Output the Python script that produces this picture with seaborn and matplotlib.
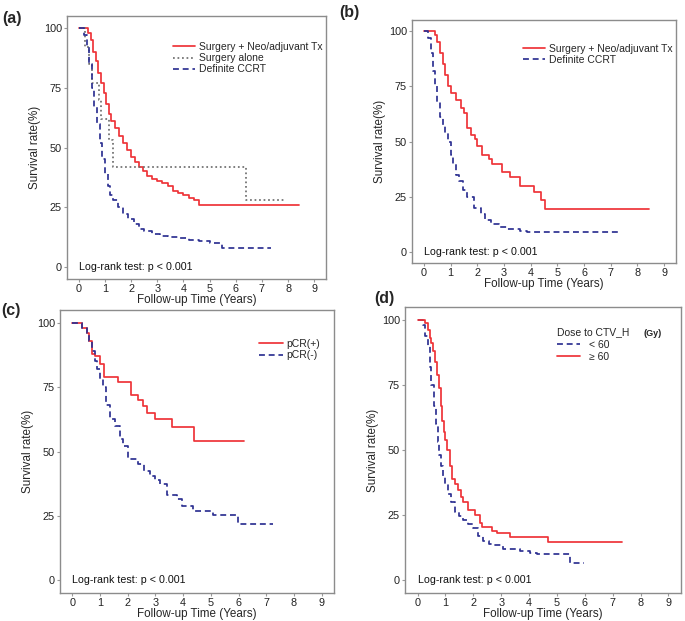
import numpy as np
import pandas as pd
import seaborn as sns
import matplotlib.pyplot as plt

#-----------------------------------
# data (time in years, survival in %)
#-----------------------------------
# (a) treatment groups
a_surg_neo_t = [0, 0.35, 0.45, 0.55, 0.65, 0.75, 0.85, 0.95, 1.05, 1.15, 1.25, 1.4, 1.55, 1.7, 1.85,
                2.0, 2.15, 2.3, 2.45, 2.6, 2.8, 3.0, 3.2, 3.4, 3.6, 3.8, 4.0, 4.2, 4.4, 4.58, 8.43]
a_surg_neo_s = [100, 98, 95, 90, 86, 81, 77, 73, 68, 64, 61, 58, 55, 52, 49,
                46, 44, 42, 40, 38, 37, 36, 35, 34, 32, 31, 30, 29, 28, 26, 26]
a_surg_alone_t = [0, 0.25, 0.4, 0.5, 0.77, 0.86, 1.17, 1.3, 6.39, 7.87]
a_surg_alone_s = [100, 92, 85, 77, 70, 62, 53, 42, 28, 28]
a_ccrt_t = [0, 0.2, 0.3, 0.4, 0.5, 0.6, 0.7, 0.8, 0.9, 1.0, 1.1, 1.2, 1.3, 1.5, 1.7, 1.9,
            2.1, 2.3, 2.5, 2.8, 3.1, 3.4, 3.8, 4.2, 4.6, 5.0, 5.47, 7.36]
a_ccrt_s = [100, 97, 92, 85, 75, 67, 60, 52, 45, 39, 34, 30, 28, 25, 22, 20,
            18, 16, 15, 14, 13, 12.5, 12, 11.5, 11, 10, 8, 8]

# (b) surgery + neo/adjuvant vs definite CCRT
b_surg_neo_t = [0, 0.4, 0.5, 0.6, 0.7, 0.8, 0.89, 1.0, 1.2, 1.39, 1.5, 1.6, 1.76, 1.9, 2.0,
                2.19, 2.44, 2.56, 2.93, 3.24, 3.59, 4.13, 4.38, 4.54, 8.44]
b_surg_neo_s = [100, 98, 95, 90, 85, 80, 75, 72, 69, 65, 63, 56, 53, 51, 48,
                44, 42, 40, 36, 34, 30, 27, 23.5, 19.5, 19.5]
b_ccrt_t = [0, 0.15, 0.25, 0.35, 0.43, 0.5, 0.6, 0.7, 0.8, 0.89, 1.0, 1.08, 1.2, 1.3, 1.45,
            1.63, 1.88, 2.13, 2.3, 2.5, 2.8, 3.12, 3.6, 3.86, 7.33]
b_ccrt_s = [100, 97, 90, 82, 75, 68, 61, 57, 54, 50, 44, 40, 35, 32, 28,
            25, 20, 17, 14.5, 12.5, 11.5, 10.5, 9.5, 9, 9]

# (c) pathologic complete response
c_pcr_pos_t = [0, 0.34, 0.52, 0.6, 0.7, 0.8, 1.0, 1.14, 1.66, 2.1, 2.38, 2.56, 2.68, 2.98, 3.58, 4.39, 6.19]
c_pcr_pos_s = [100, 98, 96, 93, 88, 87, 84, 79, 77, 72, 70, 67.5, 65, 62.5, 59.5, 54, 54]
c_pcr_neg_t = [0, 0.34, 0.52, 0.6, 0.7, 0.8, 0.9, 1.0, 1.09, 1.2, 1.36, 1.54, 1.7, 1.84, 2.02,
               2.38, 2.6, 2.8, 3.0, 3.16, 3.4, 3.76, 3.97, 4.36, 5.08, 5.98, 7.26]
c_pcr_neg_s = [100, 98, 96, 93, 89, 85, 82, 78, 75, 68, 62.5, 60, 55, 52, 47,
               45, 42.5, 40.5, 39, 37.5, 33, 31.5, 29, 27, 25.5, 22, 22]

# (d) dose to CTV_H
d_low_t = [0, 0.2, 0.28, 0.36, 0.43, 0.5, 0.58, 0.65, 0.72, 0.77, 0.85, 0.92, 1.0, 1.1, 1.2,
           1.34, 1.5, 1.64, 1.8, 2.0, 2.18, 2.36, 2.55, 2.72, 3.08, 3.68, 4.04, 4.28, 5.46, 5.96]
d_low_s = [100, 98, 94, 90, 82, 75, 67, 60, 53, 48, 44, 40, 37, 33, 30,
           26, 24.5, 23, 21.5, 20, 17, 15, 14, 13.5, 12, 11, 10.5, 10, 6.5, 6.5]
d_high_t = [0, 0.26, 0.38, 0.45, 0.5, 0.56, 0.62, 0.7, 0.78, 0.84, 0.89, 0.95, 1.0, 1.07, 1.16,
            1.25, 1.34, 1.45, 1.55, 1.64, 1.82, 2.06, 2.24, 2.3, 2.66, 2.84, 3.32, 4.67, 7.34]
d_high_s = [100, 99, 96, 93, 91, 88, 84, 79, 74, 67, 61, 57, 54, 50, 44,
            39, 37, 34.5, 32, 30, 27, 25, 22, 20.5, 19, 18, 16.5, 14.5, 14.5]

x_ticks = [0, 1, 2, 3, 4, 5, 6, 7, 8, 9]
y_ticks = [0, 25, 50, 75, 100]

RED = '#EE3338'
BLUE = '#2E3192'
GRAY = '#6E6E6E'
DASH = (0, (3.4, 2.2))
DOT = (0, (1, 1.6))

sns.set_theme(style='ticks')
plt.rcParams['font.family'] = ['Liberation Sans', 'DejaVu Sans']

W, H = 685, 621
fig = plt.figure(figsize=(W / 100, H / 100), dpi=100)


def px_rect(l, t, r, b):
    return [l / W, 1 - b / H, (r - l) / W, (b - t) / H]


def px_pt(x, y):
    return (x / W, 1 - y / H)


def km_panel(rect, curves, tag, tag_xy, leg_xy, handlelen, textpad, title=None, spacing=0.12):
    ax = fig.add_axes(px_rect(*rect))
    for t, s, col, ls, lab in curves:
        df = pd.DataFrame({'time': t, 'surv': s})
        sns.lineplot(data=df, x='time', y='surv', ax=ax, color=col, linestyle=ls,
                     linewidth=1.25, drawstyle='steps-post', estimator=None, sort=False,
                     label=lab)
    ax.set_xlim(-0.45, 9.45)
    ax.set_ylim(-5, 105)
    ax.set_xticks(x_ticks)
    ax.set_yticks(y_ticks)
    ax.set_xlabel('Follow-up Time (Years)', fontsize=8.4, labelpad=0)
    ax.set_ylabel('Survival rate(%)', fontsize=8.4, labelpad=2)
    ax.tick_params(labelsize=7.8, length=2.5, width=0.8, pad=1.2, colors='#999999', labelcolor='#222222')
    for sp in ax.spines.values():
        sp.set_visible(True)
        sp.set_color('#8C8C8C')
        sp.set_linewidth(1.0)
    ax.text(0, 0, 'Log-rank test: p < 0.001', fontsize=7.7, va='center', ha='left', color='#111111')
    ax.legend(loc='upper left', bbox_to_anchor=px_pt(*leg_xy), bbox_transform=fig.transFigure,
              frameon=False, fontsize=7.5, handlelength=handlelen, handletextpad=textpad,
              borderpad=0, borderaxespad=0, labelspacing=spacing, title=title,
              title_fontsize=7.5, alignment='left')
    fig.text(*px_pt(*tag_xy), tag, fontsize=11.5, fontweight='bold', ha='left', va='center')
    return ax


km_panel((67, 16, 326, 279),
         [(a_surg_neo_t, a_surg_neo_s, RED, '-', 'Surgery + Neo/adjuvant Tx'),
          (a_surg_alone_t, a_surg_alone_s, GRAY, DOT, 'Surgery alone'),
          (a_ccrt_t, a_ccrt_s, BLUE, DASH, 'Definite CCRT')],
         '(a)', (2, 18), (173, 42), 2.1, 0.4)

km_panel((412, 20, 676, 263),
         [(b_surg_neo_t, b_surg_neo_s, RED, '-', 'Surgery + Neo/adjuvant Tx'),
          (b_ccrt_t, b_ccrt_s, BLUE, DASH, 'Definite CCRT')],
         '(b)', (339, 12), (523, 43.5), 2.1, 0.4)

km_panel((60, 310, 334, 593),
         [(c_pcr_pos_t, c_pcr_pos_s, RED, '-', 'pCR(+)'),
          (c_pcr_neg_t, c_pcr_neg_s, BLUE, DASH, 'pCR(-)')],
         '(c)', (1, 310), (259, 339), 2.3, 0.3)

km_panel((405, 307, 681, 593),
         [(d_low_t, d_low_s, BLUE, DASH, '< 60'),
          (d_high_t, d_high_s, RED, '-', '≥ 60')],
         '(d)', (374, 299), (557, 327.5), 2.2, 0.85, title='Dose to CTV_H', spacing=0.2)
fig.text(*px_pt(644, 333), '(Gy)', fontsize=6.5, fontweight='bold', ha='left', va='center')

fig.savefig('out.png', dpi=100)
